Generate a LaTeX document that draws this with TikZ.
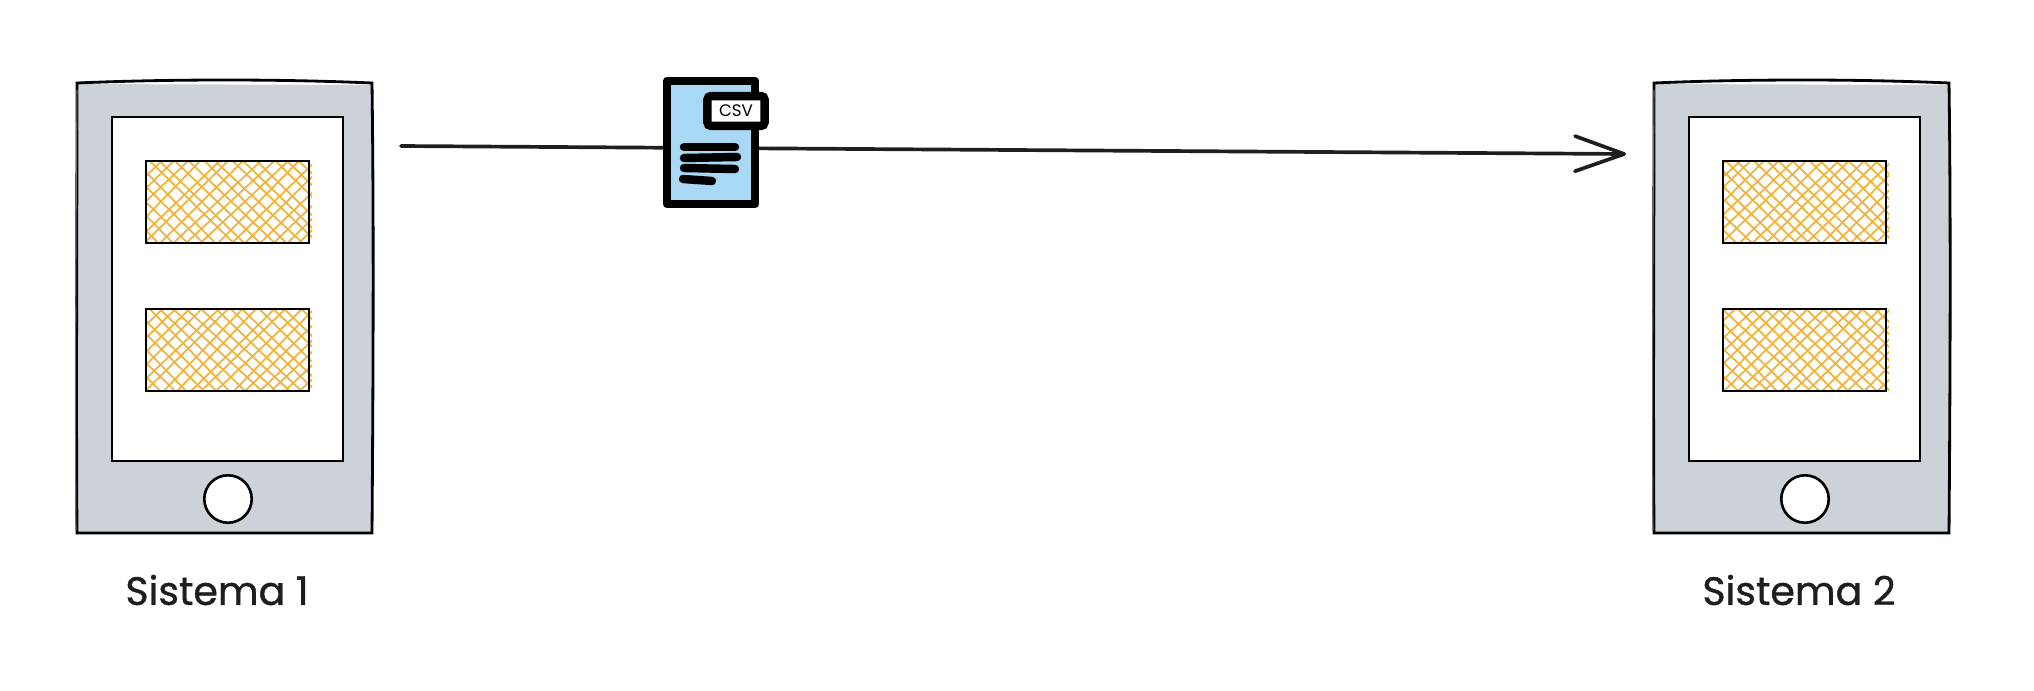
\documentclass[tikz,border=0pt]{standalone}
\usepackage{fontspec}
\usetikzlibrary{arrows.meta}
\setmainfont{Poppins}
\newfontfamily\labelfont[FakeBold=0.9]{Poppins}

\definecolor{framegray}{HTML}{CDD2D9}
\definecolor{hatchorange}{HTML}{F0B43C}
\definecolor{docblue}{HTML}{A8D8F4}
\definecolor{inkblack}{HTML}{1E1E1E}

\tikzset{
    outline/.style={line width=1.6pt, black, line join=miter},
    thinline/.style={line width=0.6pt, black!60},
    hatch/.style={line width=1pt, hatchorange},
    docstroke/.style={line width=4.8pt, black, line cap=round, line join=round},
    sistemalabel/.style={inkblack, font=\labelfont\fontsize{22.5}{26}\selectfont, inner sep=0pt},
    homebutton/.style={circle, draw=black, line width=1.5pt, fill=white, minimum size=27pt, inner sep=0pt}
}

% Hatched panel: top edge given, everything else fixed
\newcommand{\hatchpanel}[1]{
    \begin{scope}
        \clip (145,#1-1) rectangle (312,#1+83);
        \foreach \s in {-80,-66,...,310} {
            \draw[hatch] (\s+6*rnd,#1) -- (\s+84+6*rnd,#1+82);
            \draw[hatch] (\s+84+6*rnd,#1) -- (\s+6*rnd,#1+82);
        }
    \end{scope}
    \draw[outline] (146,#1) -- (309,#1) -- (309,#1+82) -- (146,#1+82) -- cycle;
}

\begin{document}
\begin{tikzpicture}[x=0.02cm, y=-0.02cm]
    \useasboundingbox (0,0) rectangle (2034,690);
    \pgfmathsetseed{11}

    % --- The two devices ---
    \foreach \name/\dx/\labx/\lab in {one/0/217/Sistema 1, two/1577/222/Sistema 2} {
        \begin{scope}[shift={(\dx,0)}]
            % Body
            \fill[framegray] (78,84) -- (373,85) -- (372,534) -- (78,534) -- cycle;
            \draw[outline] (77,83) .. controls (170,79) and (280,79) .. (372,83)
                .. controls (374,230) and (373,400) .. (372,533)
                -- (77,533)
                .. controls (76,400) and (77,230) .. (77,83) -- cycle;
            \draw[thinline] (76,530) .. controls (75,400) and (76,230) .. (77,90);
            % Screen
            \fill[white] (113,118) rectangle (343,461);
            \draw[outline] (112,117) -- (343,117) -- (343,461) -- (112,461) -- cycle;
            \hatchpanel{161}
            \hatchpanel{309}
            \node[homebutton] (button\name) at (228,499) {};
            \node[sistemalabel] (label\name) at (\labx,590) {\lab};
        \end{scope}
    }

    % --- Connector, runs behind the file icon ---
    \coordinate (sendstart) at (401,146);
    \coordinate (sendend) at (1626,154);
    \draw[line width=2.1pt, inkblack, line cap=round,
        -{Straight Barb[length=28pt, width=20pt, line width=2.1pt, round]}] (sendstart) -- (sendend);

    % --- File icon ---
    \draw[docstroke, fill=docblue] (667,81) -- (755,81) -- (755,204) -- (667,204) -- cycle;
    \node[draw=black, line width=4.8pt, rounded corners=2pt, fill=white, minimum width=32.5pt,
        minimum height=17pt, inner sep=0pt, font=\fontsize{9.5}{9.5}\selectfont] (csvtag) at (736,111) {CSV};
    \draw[docstroke] (684,147) -- (735,147);
    \draw[docstroke] (684,158) -- (737,157);
    \draw[docstroke] (684,168) -- (735,169);
    \draw[docstroke] (683,179) -- (712,181);
\end{tikzpicture}
\end{document}
